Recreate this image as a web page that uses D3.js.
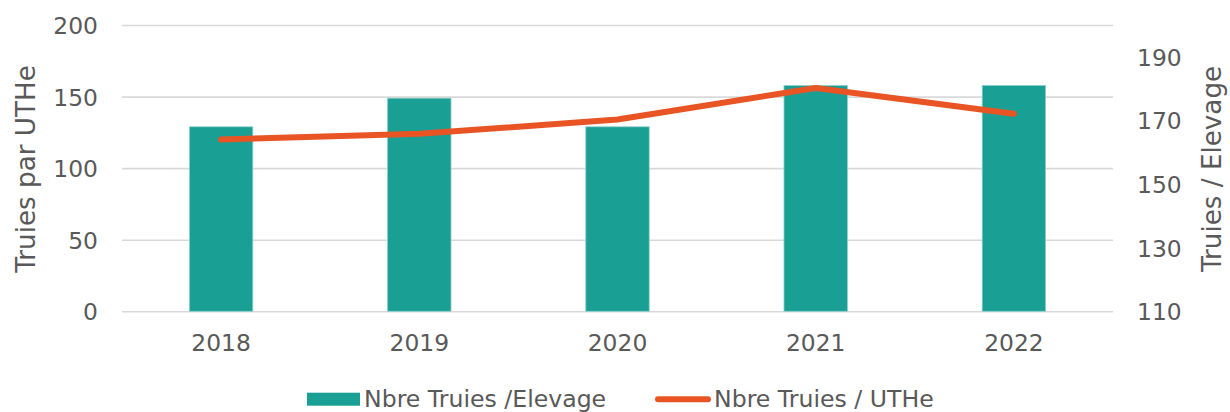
<!DOCTYPE html>
<html>
<head>
<meta charset="utf-8">
<script src="https://cdn.jsdelivr.net/npm/d3@7"></script>
<style>
  html, body { margin: 0; padding: 0; background: #fff; }
  svg { display: block; font-family: "DejaVu Sans", sans-serif; }
</style>
</head>
<body>
<svg id="chart" width="1230" height="412"></svg>
<script>
// ---- Data ----
const years = ["2018", "2019", "2020", "2021", "2022"];
const truiesParElevage = [168, 177, 168, 181, 181];   // bars, right axis
const truiesParUTHe = [120, 124, 134, 156, 138];       // line, left axis
const leftTicks = [0, 50, 100, 150, 200];
const rightTicks = [110, 130, 150, 170, 190];
const leftTitle = "Truies par UTHe";
const rightTitle = "Truies / Elevage";
const barLabel = "Nbre Truies /Elevage";
const lineLabel = "Nbre Truies / UTHe";

// ---- Layout ----
const plotL = 122, plotR = 1113, plotT = 25, plotB = 311.3;
const textColor = "#595959";
const gridColor = "#d9d9d9";
const barColor = "#1a9f95";
const lineColor = "#e85424";
const fsTick = 23.4;
const fsTitle = 26.2;
const fsLegend = 23.6;

const svg = d3.select("#chart");

const x = d3.scaleBand().domain(years).range([plotL, plotR])
  .paddingInner(0.68).paddingOuter(0.34);
const yL = d3.scaleLinear().domain([0, 200]).range([plotB, plotT]);
const yR = d3.scaleLinear().domain([110, 200]).range([plotB, plotT]);

// Gridlines (left axis)
const gridAxis = d3.axisLeft(yL).tickValues(leftTicks)
  .tickSize(-(plotR - plotL)).tickFormat("");
const gg = svg.append("g").attr("transform", `translate(${plotL},0)`).call(gridAxis);
gg.select(".domain").remove();
gg.selectAll(".tick line").attr("stroke", gridColor).attr("stroke-width", 1.6);

// Left axis labels
const la = svg.append("g").attr("transform", `translate(98,0)`)
  .call(d3.axisLeft(yL).tickValues(leftTicks).tickSize(0).tickPadding(0));
la.select(".domain").remove();
la.selectAll("text").attr("fill", textColor).style("font-size", fsTick + "px")
  .style("font-family", "DejaVu Sans").attr("text-anchor", "end").attr("dy", "0.36em");

// Right axis labels
const ra = svg.append("g").attr("transform", `translate(1137,0)`)
  .call(d3.axisRight(yR).tickValues(rightTicks).tickSize(0).tickPadding(0));
ra.select(".domain").remove();
ra.selectAll("text").attr("fill", textColor).style("font-size", fsTick + "px")
  .style("font-family", "DejaVu Sans").attr("text-anchor", "start").attr("dy", "0.36em");

// Bars
svg.append("g").selectAll("rect").data(years).join("rect")
  .attr("x", d => x(d))
  .attr("width", x.bandwidth())
  .attr("y", (d, i) => yR(truiesParElevage[i]))
  .attr("height", (d, i) => yR(110) - yR(truiesParElevage[i]))
  .attr("fill", barColor)
  .attr("stroke", "#8fd0ca").attr("stroke-width", 0.8);

// X axis labels
const xa = svg.append("g").attr("transform", `translate(0,${plotB})`)
  .call(d3.axisBottom(x).tickSize(0).tickPadding(0));
xa.select(".domain").remove();
xa.selectAll("text").attr("fill", textColor).style("font-size", fsTick + "px")
  .style("font-family", "DejaVu Sans").attr("y", 40).attr("dy", 0);

// Line
const lineGen = d3.line()
  .x((d, i) => x(years[i]) + x.bandwidth() / 2)
  .y(d => yL(d));
svg.append("path").datum(truiesParUTHe)
  .attr("d", lineGen)
  .attr("fill", "none")
  .attr("stroke", lineColor)
  .attr("stroke-width", 6)
  .attr("stroke-linecap", "round")
  .attr("stroke-linejoin", "round");

// Axis titles
svg.append("text")
  .attr("transform", `translate(34.5,169) rotate(-90)`)
  .attr("text-anchor", "middle")
  .attr("fill", textColor).style("font-size", fsTitle + "px")
  .text(leftTitle);
svg.append("text")
  .attr("transform", `translate(1221,169) rotate(-90)`)
  .attr("text-anchor", "middle")
  .attr("fill", textColor).style("font-size", fsTitle + "px")
  .text(rightTitle);

// Legend
const lg = svg.append("g");
lg.append("rect").attr("x", 307).attr("y", 392.7).attr("width", 53).attr("height", 13)
  .attr("fill", barColor);
lg.append("text").attr("x", 364).attr("y", 406.7).attr("fill", textColor)
  .style("font-size", fsLegend + "px").text(barLabel);
lg.append("line").attr("x1", 658).attr("x2", 708).attr("y1", 399.3).attr("y2", 399.3)
  .attr("stroke", lineColor).attr("stroke-width", 6).attr("stroke-linecap", "round");
lg.append("text").attr("x", 714).attr("y", 406.7).attr("fill", textColor)
  .style("font-size", fsLegend + "px").text(lineLabel);
</script>
</body>
</html>
